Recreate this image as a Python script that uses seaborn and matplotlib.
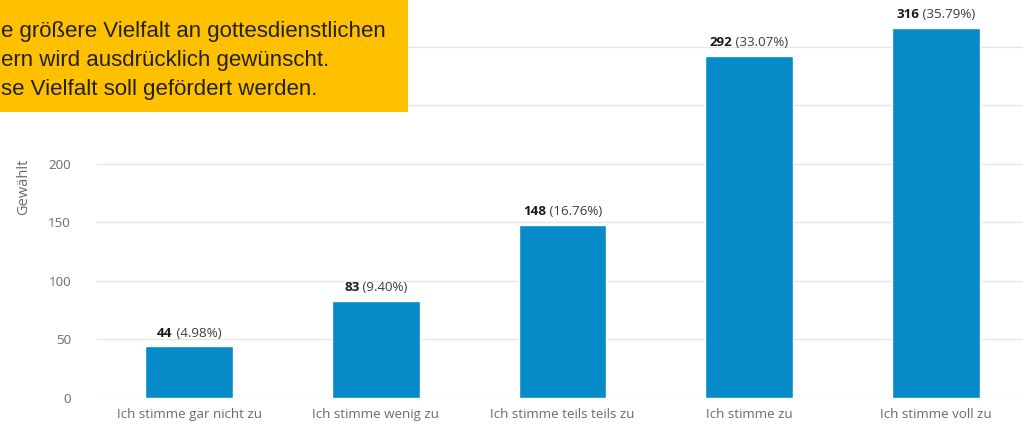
import seaborn as sns
import matplotlib.pyplot as plt
from matplotlib.patches import Rectangle

categories = ["Ich stimme gar nicht zu", "Ich stimme wenig zu", "Ich stimme teils teils zu",
              "Ich stimme zu", "Ich stimme voll zu"]
counts = [44, 83, 148, 292, 316]
percents = ["4.98%", "9.40%", "16.76%", "33.07%", "35.79%"]
y_ticks = [0, 50, 100, 150, 200, 250, 300]
# 250 and 300 sit under the yellow box, so no visible label
y_tick_labels = ["0", "50", "100", "150", "200", "", ""]
# the statement box is cropped at the left edge in the original
box_lines = ["e größere Vielfalt an gottesdienstlichen",
             "ern wird ausdrücklich gewünscht.",
             "se Vielfalt soll gefördert werden."]

sns.set_style("white")
plt.rcParams['font.family'] = ['Open Sans', 'DejaVu Sans']

fig = plt.figure(figsize=(10.23, 4.25), dpi=100)
ax = fig.add_axes([96 / 1023, 27 / 425, 933 / 1023, 398 / 425])

sns.barplot(x=categories, y=counts, color="#078BC8", width=0.47, saturation=1, ax=ax)

ax.set_xlim(-0.5, 4.5)
ax.set_ylim(0, 340)
ax.set_yticks(y_ticks, y_tick_labels)
ax.grid(axis='y', color='#e6e6e6', linewidth=1)
ax.set_axisbelow(True)
sns.despine(left=True, bottom=True)
ax.tick_params(axis='both', length=0, labelsize=9.6, labelcolor='#6b6b6b')
ax.tick_params(axis='y', pad=18)
ax.tick_params(axis='x', pad=7)
ax.set_ylabel("Gewählt", fontsize=10.5, color='#6b6b6b')
ax.yaxis.set_label_coords(-0.07, 0.53)

# value labels: bold count + percentage, centred on the bar
fig.canvas.draw()
r = fig.canvas.get_renderer()
for i, (c, p) in enumerate(zip(counts, percents)):
    t1 = ax.annotate(str(c), xy=(i, c), xytext=(0, 5), textcoords='offset points',
                     ha='left', va='bottom', fontsize=9.6, fontweight='bold', color='#1a1a1a')
    t2 = ax.annotate(" (" + p + ")", xy=(i, c), xytext=(0, 5), textcoords='offset points',
                     ha='left', va='bottom', fontsize=9.6, color='#3c3c3c')
    w1 = t1.get_window_extent(r).width * 72 / fig.dpi
    w2 = t2.get_window_extent(r).width * 72 / fig.dpi
    t1.set_position((-(w1 + w2) / 2, 5))
    t2.set_position((-(w1 + w2) / 2 + w1, 5))

# yellow overlay box with statement
fig.patches.append(Rectangle((0, 1 - 112 / 425), 408 / 1023, 112 / 425,
                             transform=fig.transFigure, facecolor='#FFC000',
                             edgecolor='none', zorder=5))
fig.text(1 / 1023, 1 - 21 / 425, "\n".join(box_lines), fontsize=16, linespacing=1.5,
         family='Liberation Sans', color='#222222', va='top', ha='left', zorder=6)

fig.savefig("out.png", dpi=100)
